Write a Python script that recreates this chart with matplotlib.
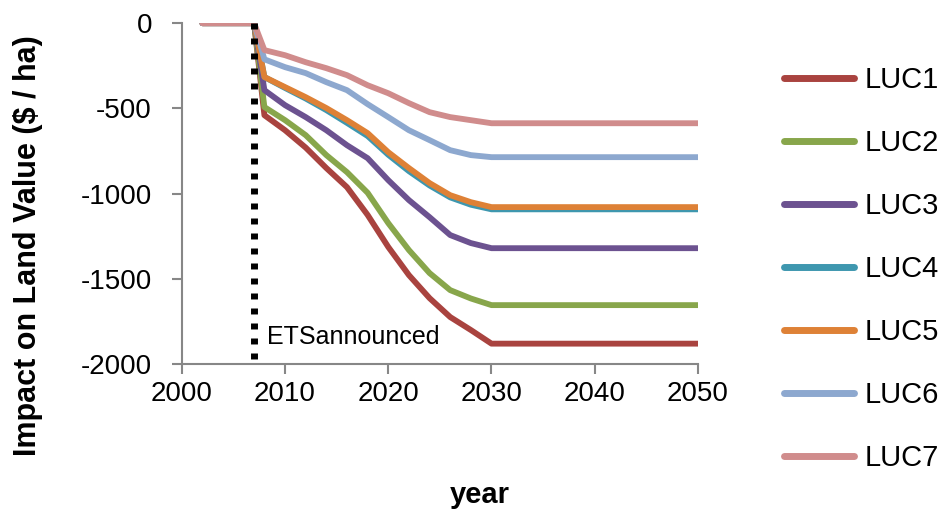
import matplotlib
matplotlib.use("Agg")
import matplotlib.pyplot as plt

plt.rcParams['font.family'] = ['Liberation Sans', 'DejaVu Sans']
plt.rcParams['axes.unicode_minus'] = False

years = [2002, 2007, 2008, 2010, 2012, 2014, 2016, 2018, 2020, 2022, 2024, 2026, 2028, 2030, 2050]

luc1 = [0, 0, -540, -628, -730, -850, -962, -1125, -1313, -1478, -1613, -1724, -1800, -1880, -1880]
luc2 = [0, 0, -492, -569, -657, -774, -874, -995, -1173, -1331, -1466, -1566, -1615, -1654, -1654]
luc3 = [0, 0, -393, -481, -551, -628, -716, -792, -921, -1038, -1138, -1243, -1290, -1320, -1320]
luc4 = [0, 0, -316, -380, -442, -510, -585, -662, -772, -868, -952, -1022, -1065, -1092, -1092]
luc5 = [0, 0, -316, -375, -434, -498, -569, -645, -757, -850, -938, -1009, -1050, -1079, -1079]
luc6 = [0, 0, -212, -258, -293, -346, -393, -475, -551, -628, -686, -745, -774, -786, -786]
luc7 = [0, 0, -158, -188, -229, -264, -305, -364, -411, -469, -522, -551, -569, -587, -587]

series = [luc1, luc2, luc3, luc4, luc5, luc6, luc7]
names = ["LUC1", "LUC2", "LUC3", "LUC4", "LUC5", "LUC6", "LUC7"]
colors = ["#A9433F", "#88A64B", "#6C5290", "#3E97AF", "#DE8136", "#8DA8CF", "#D08C8C"]

ets_year = 2007
ets_label = "ETSannounced"

fig = plt.figure(figsize=(9.47, 5.15), dpi=100)
ax = fig.add_axes([0.192, 0.293, 0.545, 0.662])

for vals, name, col in zip(series, names, colors):
    ax.plot(years, vals, color=col, lw=4.2, label=name,
            solid_capstyle='round', solid_joinstyle='round')

# vertical marker for the ETS announcement
ax.plot([ets_year, ets_year], [0, -2000], color='black', lw=5,
        linestyle=(0, (0.86, 1.3)), dash_capstyle='butt', zorder=5)
ax.text(ets_year + 1.3, -1842, ets_label, fontsize=18, va='center', ha='left')

ax.set_xlim(2000, 2050)
ax.set_ylim(-2000, 0)
ax.set_xticks([2000, 2010, 2020, 2030, 2040, 2050])
ax.set_yticks([0, -500, -1000, -1500, -2000])

for s in ['top', 'right']:
    ax.spines[s].set_visible(False)
for s in ['left', 'bottom']:
    ax.spines[s].set_color('#878787')
    ax.spines[s].set_linewidth(1.5)
ax.tick_params(axis='both', colors='#878787', length=7.5, width=1.5,
               labelsize=20, labelcolor='black')
ax.tick_params(axis='y', pad=14)
ax.tick_params(axis='x', pad=5)

ax.set_xlabel("year", fontsize=21, fontweight='bold')
ax.xaxis.set_label_coords((480 - 182) / 516, (364 - 495) / 341)
ax.xaxis.label.set_va('center')
ax.set_ylabel("Impact on Land Value ($ / ha)", fontsize=22, fontweight='bold')
ax.yaxis.set_label_coords((28 - 182) / 516, (364 - 245) / 341)
ax.yaxis.label.set_va('center')

handles, labels = ax.get_legend_handles_labels()
leg = fig.legend(handles, labels, loc='upper left',
                 bbox_to_anchor=(784 / 947, 1 - 66 / 515), frameon=False,
                 fontsize=21, handlelength=2.4, labelspacing=1.2,
                 handletextpad=0.35, borderpad=0, borderaxespad=0)
for h in leg.get_lines():
    h.set_linewidth(5)
    h.set_solid_capstyle('round')

fig.savefig("out.png", dpi=100)
